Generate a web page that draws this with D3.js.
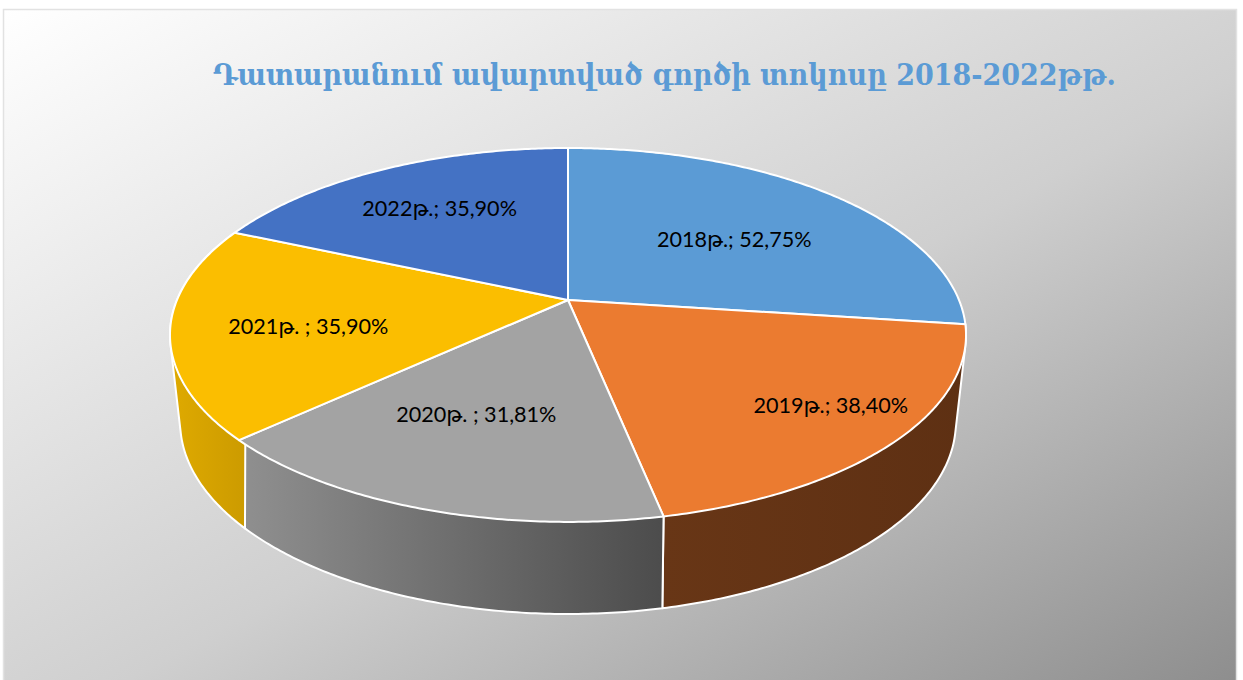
<!DOCTYPE html>
<html>
<head>
<meta charset="utf-8">
<script src="https://cdn.jsdelivr.net/npm/d3@7"></script>
<style>
  html, body { margin: 0; padding: 0; background: #fff; overflow: hidden; }
</style>
</head>
<body>
<div id="chart"></div>
<script>
const titleText = 'Դատարանում ավարտված գործի տոկոսը 2018-2022թթ.';
const categories = ['2018թ.', '2019թ.', '2020թ. ', '2021թ. ', '2022թ.'];
const values = [52.75, 38.40, 31.81, 35.90, 35.90];
const topColors = ['#5b9bd5', '#eb7b30', '#a3a3a3', '#fbbe00', '#4472c4'];
// left and right colour of the side wall, only the front slices show one
const wallColors = [['#37608a', '#37608a'], ['#683616', '#5e3013'], ['#909090', '#4c4c4c'], ['#dfaa00', '#cc9b00'], ['#2a4a80', '#2a4a80']];

const width = 1243;
const height = 680;
// perspective of the pie disc, top face and bottom face
const topFace = {cx: 568, cy: 300, a: 391, b: 180.4, k: 0.187};
const bottomFace = {cx: 568, cy: 384, a: 380, b: 184, k: 0.2};
// label shift from the slice centroid
const labelRadius = 0.6;
const labelShift = [[2, 6], [77, 26], [-11, -1], [-24, 8], [-11, -9]];

let svg = d3.select('#chart').append('svg')
    .attr('width', width)
    .attr('height', height)
    .style('display', 'block');
let defs = svg.append('defs');

// the other two corners share one grey, so the vector is square to that diagonal
let bg = defs.append('linearGradient')
    .attr('id', 'bg')
    .attr('gradientUnits', 'userSpaceOnUse')
    .attr('x1', 4).attr('y1', 10)
    .attr('x2', 566).attr('y2', 1044);
bg.append('stop').attr('offset', 0).attr('stop-color', '#ffffff');
bg.append('stop').attr('offset', 0.55).attr('stop-color', '#cfcfcf');
bg.append('stop').attr('offset', 1).attr('stop-color', '#8e8e8e');

svg.append('rect')
    .attr('x', 3.5).attr('y', 9.5)
    .attr('width', 1233).attr('height', 672)
    .attr('fill', 'url(#bg)')
    .attr('stroke', '#e2e2e2')
    .attr('stroke-width', 1.5);

svg.append('text')
    .attr('x', 213)
    .attr('y', 85)
    .attr('fill', '#5b9bd5')
    .attr('font-family', '"DejaVu Serif", serif')
    .attr('font-weight', 'bold')
    .attr('font-size', 29)
    .attr('textLength', 903)
    .attr('lengthAdjust', 'spacingAndGlyphs')
    .text(titleText);

// angle (clockwise from the top) and radius fraction to a point on a face
function project(face, angle, r) {
    let u = r * Math.sin(angle);
    let v = r * Math.cos(angle);
    let d = 1 + face.k * v;
    return [face.cx + face.a * u / d, face.cy - face.b * v / d];
}

function rim(face, start, end) {
    let n = Math.ceil((end - start) / 0.01);
    return d3.range(n + 1).map(i => project(face, start + (end - start) * i / n, 1));
}

let arcs = d3.pie().sort(null).value(d => d)(values);
let line = d3.line().curve(d3.curveLinear);

// side walls first, top faces cover whatever is behind them
let walls = arcs.filter(d => Math.cos((d.startAngle + d.endAngle) / 2) < 0.3);
walls.forEach(d => {
    let grad = defs.append('linearGradient').attr('id', `wall${d.index}`);
    grad.append('stop').attr('offset', 0).attr('stop-color', wallColors[d.index][0]);
    grad.append('stop').attr('offset', 1).attr('stop-color', wallColors[d.index][1]);
});

svg.append('g')
    .selectAll('path')
    .data(walls)
    .enter().append('path')
        .attr('d', d => {
            let pts = rim(topFace, d.startAngle, d.endAngle)
                .concat(rim(bottomFace, d.startAngle, d.endAngle));
            return line(d3.polygonHull(pts)) + 'Z';
        })
        .attr('fill', d => `url(#wall${d.index})`)
        .attr('stroke', '#fff')
        .attr('stroke-width', 2)
        .attr('stroke-linejoin', 'round');

svg.append('g')
    .selectAll('path')
    .data(arcs)
    .enter().append('path')
        .attr('d', d => {
            let pts = [[topFace.cx, topFace.cy]].concat(rim(topFace, d.startAngle, d.endAngle));
            return line(pts) + 'Z';
        })
        .attr('fill', d => topColors[d.index])
        .attr('stroke', '#fff')
        .attr('stroke-width', 2)
        .attr('stroke-linejoin', 'round');

let comma = d3.formatLocale({decimal: ',', thousands: ' ', grouping: [3], currency: ['', '']}).format('.2f');

svg.append('g')
    .selectAll('text')
    .data(arcs)
    .enter().append('text')
        .attr('transform', d => {
            let p = project(topFace, (d.startAngle + d.endAngle) / 2, labelRadius);
            let s = labelShift[d.index];
            return `translate(${p[0] + s[0]},${p[1] + s[1]})`;
        })
        .attr('dy', '0.35em')
        .attr('text-anchor', 'middle')
        .attr('fill', '#000')
        .attr('font-family', 'Lato, "Noto Sans", "DejaVu Sans", sans-serif')
        .attr('font-size', 21.6)
        .text(d => `${categories[d.index]}; ${comma(d.value)}%`);
</script>
</body>
</html>
